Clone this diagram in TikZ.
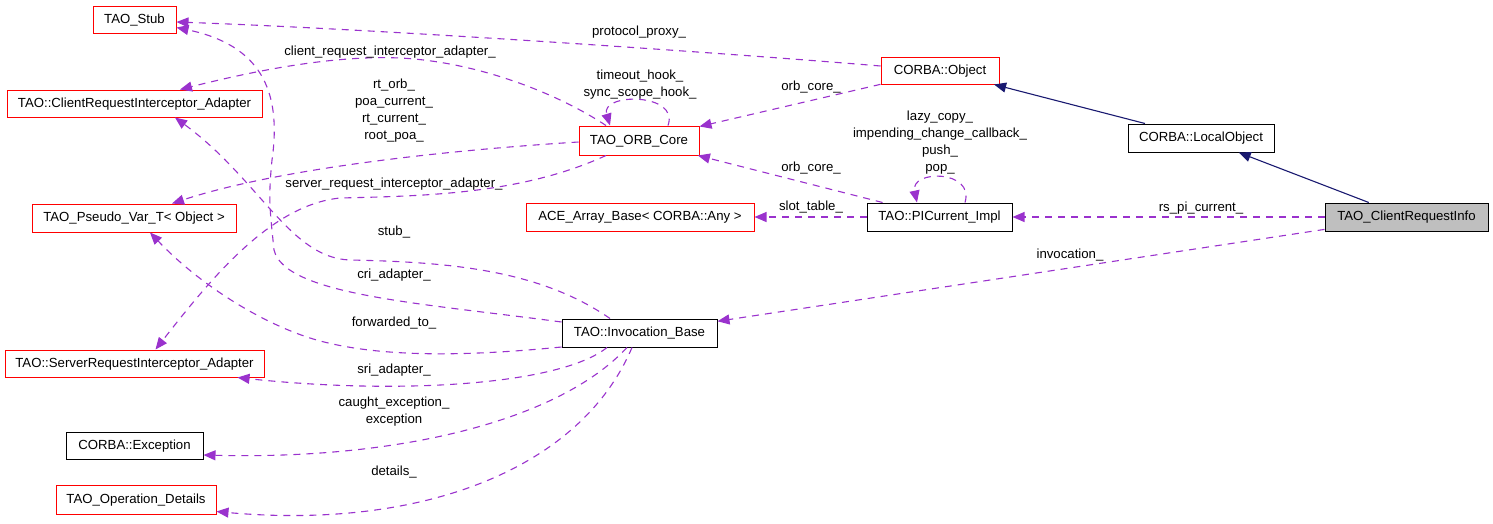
\documentclass[tikz,border=0pt]{standalone}
\usepackage{fontspec}
\setmainfont{Liberation Sans}
\usetikzlibrary{arrows.meta,calc}
\definecolor{edgepurple}{HTML}{9A32CD}
\definecolor{navyedge}{HTML}{191970}
\definecolor{boxred}{HTML}{FF0000}
\definecolor{boxgray}{HTML}{BFBFBF}
\begin{document}
\begin{tikzpicture}[x=1pt,y=-1pt,
  every node/.style={font=\fontsize{13.2}{17}\selectfont},
  cls/.style={draw, line width=1pt, inner sep=0pt, minimum height=28pt, text height=9.5pt, text depth=2.5pt},
  redcls/.style={cls, draw=boxred},
  blkcls/.style={cls, draw=black},
  dep/.style={draw=edgepurple, line width=1.1pt, dash pattern=on 7pt off 6pt, -{Triangle[length=12pt,width=10pt]}},
  inh/.style={draw=navyedge, line width=1.1pt, -{Triangle[length=12pt,width=10pt]}},
  lbl/.style={inner sep=0pt, align=center}
]
\useasboundingbox (0,0) rectangle (1493,523);

% nodes
\node[redcls, minimum width=83pt, minimum height=27pt] (stub) at (134.5,19.5) {TAO\_Stub};
\node[redcls, minimum width=255pt, minimum height=27pt] (cria) at (134.5,103.5) {TAO::ClientRequestInterceptor\_Adapter};
\node[redcls, minimum width=204pt] (pseudo) at (134,218) {TAO\_Pseudo\_Var\_T< Object >};
\node[redcls, minimum width=259pt, minimum height=27pt] (sria) at (134.5,363.5) {TAO::ServerRequestInterceptor\_Adapter};
\node[blkcls, minimum width=137pt, minimum height=27pt] (exc) at (134.5,445.5) {CORBA::Exception};
\node[redcls, minimum width=160pt, minimum height=29pt] (opd) at (136,499.5) {TAO\_Operation\_Details};
\node[redcls, minimum width=120pt, minimum height=29pt] (orb) at (639,140.5) {TAO\_ORB\_Core};
\node[redcls, minimum width=118pt, minimum height=27pt] (obj) at (940,70.5) {CORBA::Object};
\node[blkcls, minimum width=146pt] (lobj) at (1201,138) {CORBA::LocalObject};
\node[blkcls, fill=boxgray, minimum width=163pt] (cri) at (1406.5,217) {TAO\_ClientRequestInfo};
\node[blkcls, minimum width=145pt] (pic) at (939.5,217) {TAO::PICurrent\_Impl};
\node[redcls, minimum width=228pt] (ace) at (640,217) {ACE\_Array\_Base< CORBA::Any >};
\node[blkcls, minimum width=155pt] (inv) at (639.5,333) {TAO::Invocation\_Base};

% inheritance
\draw[inh] (lobj) -- (obj);
\draw[inh] (cri) -- (lobj);

% usage edges
\draw[dep] (cri.west) -- (pic.east);
\draw[dep] (pic.west) -- (ace.east);
\draw[dep] (cri) -- (inv);
\draw[dep] (obj) -- (orb);
\draw[dep] (pic) -- (orb);
\draw[dep] ($(pic.north)+(25.5,0)$) .. controls ($(pic.north)+(35.5,-33)$) and ($(pic.north)+(-29.5,-33)$) .. ($(pic.north)+(-22.5,0)$);
\draw[dep] ($(orb.north)+(29,0)$) .. controls ($(orb.north)+(41,-33)$) and ($(orb.north)+(-39,-33)$) .. ($(orb.north)+(-29,0)$);
\draw[dep] ($(obj.west)+(0,-4.5)$) .. controls (750,55) and (400,30) .. ($(stub.east)+(0,2.5)$);
\draw[dep] ($(orb.north)+(-33,0)$) .. controls (560,95) and (480,62) .. (400,58) .. controls (330,55) and (250,72) .. ($(cria.north)+(45.5,0)$);
\draw[dep] ($(orb.west)+(0,1.5)$) .. controls (450,150) and (280,168) .. ($(pseudo.north)+(38,0)$);
\draw[dep] ($(orb.south)+(-33,0)$) .. controls (520,195) and (420,196) .. (340,198) .. controls (270,205) and (210,280) .. ($(sria.north)+(21,0)$);
\draw[dep] ($(inv.west)+(0,-11)$) .. controls (420,303) and (285,295) .. (274,250) .. controls (270,210) and (268,200) .. (272,160) .. controls (282,90) and (260,45) .. ($(stub.east)+(0,8)$);
\draw[dep] ($(inv.north)+(-29.5,0)$) .. controls (540,270) and (450,262) .. (350,260) .. controls (290,258) and (260,180) .. ($(cria.south)+(40.5,0)$);
\draw[dep] ($(inv.west)+(0,14)$) .. controls (480,355) and (380,360) .. (310,338) .. controls (260,322) and (200,285) .. ($(pseudo.south)+(16,0)$);
\draw[dep] ($(inv.south)+(-32.5,0)$) .. controls (560,385) and (400,395) .. ($(sria.south)+(103,0)$);
\draw[dep] ($(inv.south)+(-12.5,0)$) .. controls (560,420) and (400,460) .. ($(exc.east)+(0,9.5)$);
\draw[dep] ($(inv.south)+(-7.5,0)$) .. controls (580,470) and (420,530) .. ($(opd.east)+(0,12)$);

% labels
\node[lbl] (lprot) at (639,32) {protocol\_proxy\_};
\node[lbl] (lcria) at (390,52) {client\_request\_interceptor\_adapter\_};
\node[lbl] (lhook) at (640,84.5) {timeout\_hook\_\\sync\_scope\_hook\_};
\node[lbl] (lorb1) at (811,87) {orb\_core\_};
\node[lbl] (lorb2) at (811,168) {orb\_core\_};
\node[lbl] (lrt) at (394,111) {rt\_orb\_\\poa\_current\_\\rt\_current\_\\root\_poa\_};
\node[lbl] (llazy) at (940,143) {lazy\_copy\_\\impending\_change\_callback\_\\push\_\\pop\_};
\node[lbl] (lsria) at (394,184) {server\_request\_interceptor\_adapter\_};
\node[lbl] (lslot) at (811,207) {slot\_table\_};
\node[lbl] (lrs) at (1201,208) {rs\_pi\_current\_};
\node[lbl] (linv) at (1070,255) {invocation\_};
\node[lbl] (lstub) at (394,232) {stub\_};
\node[lbl] (lcri) at (394,275) {cri\_adapter\_};
\node[lbl] (lfwd) at (394,323) {forwarded\_to\_};
\node[lbl] (lsri) at (394,370) {sri\_adapter\_};
\node[lbl] (lexc) at (394,412) {caught\_exception\_\\exception};
\node[lbl] (ldet) at (394,472) {details\_};
\end{tikzpicture}
\end{document}
